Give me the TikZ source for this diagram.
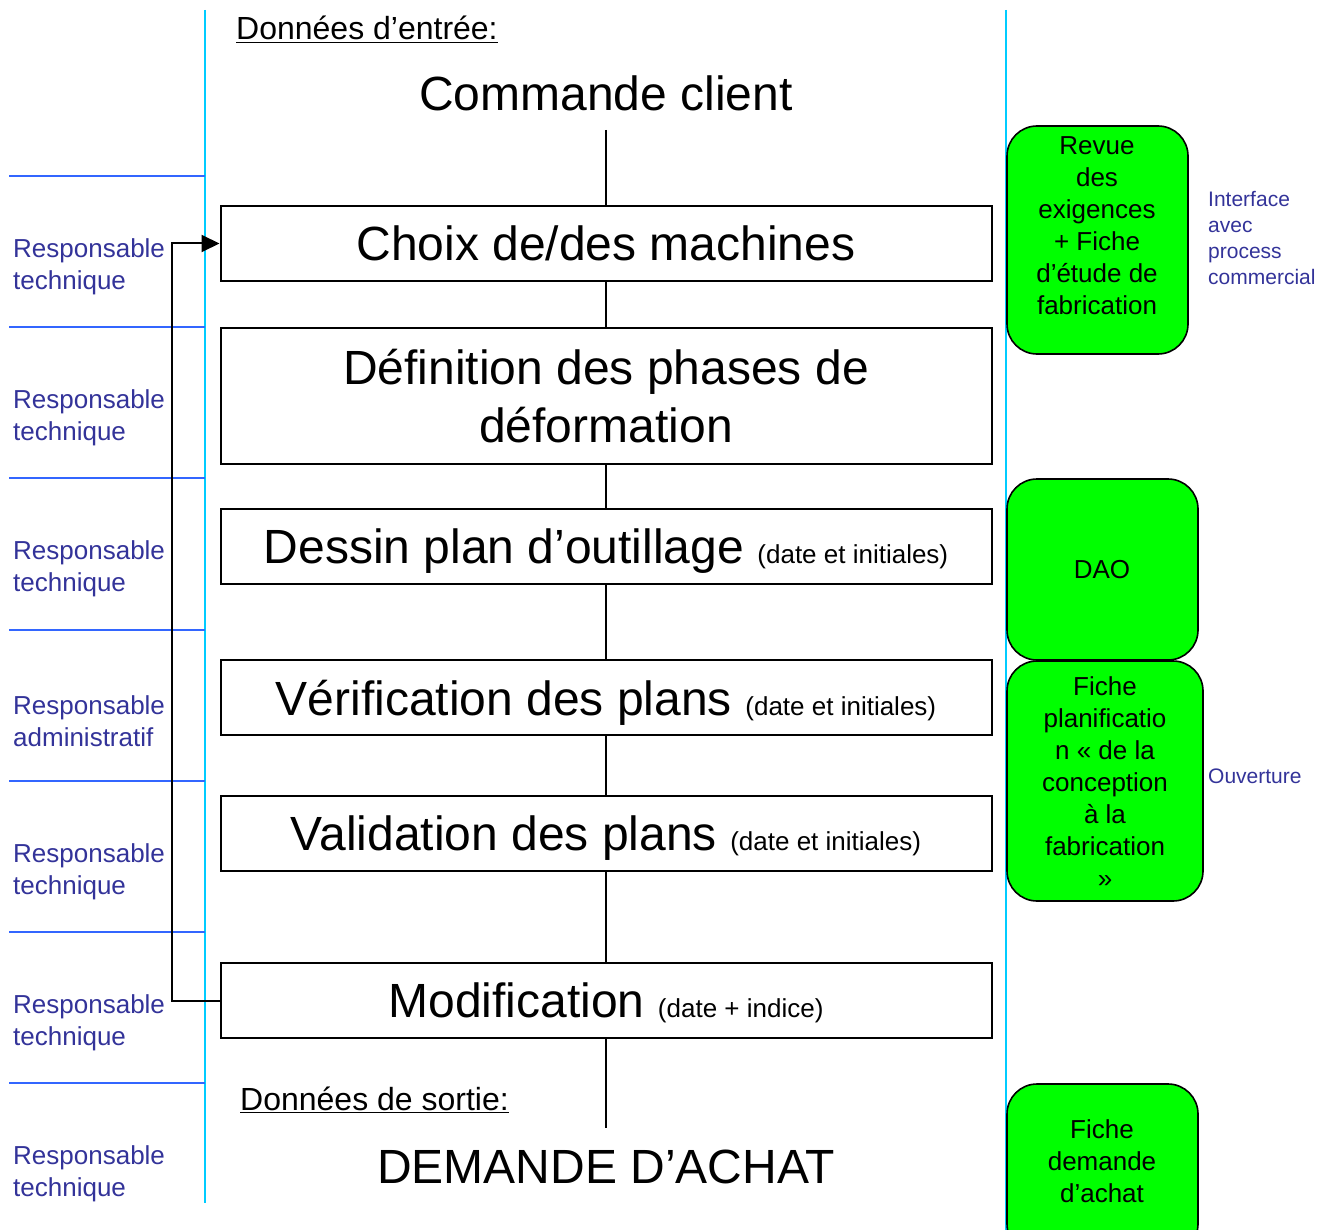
\documentclass[tikz,border=0pt]{standalone}
\usepackage{fontspec}
\setmainfont{Liberation Sans}
\usetikzlibrary{arrows.meta}
\definecolor{lane}{HTML}{00CCFF}
\definecolor{sepline}{HTML}{3366FF}
\definecolor{role}{HTML}{333399}
\definecolor{tool}{HTML}{00FF00}
\newcommand{\annot}[1]{{\fontsize{26}{31}\selectfont #1}}
\begin{document}
\begin{tikzpicture}[x=1pt,y=-1pt,
  stepbox/.style={draw=black, line width=2pt, minimum width=771pt, minimum height=75pt,
    inner sep=0pt, align=center, font=\fontsize{48}{57.6}\selectfont},
  oneline/.style={text depth=0pt},
  bigtext/.style={inner sep=0pt, font=\fontsize{48}{57.6}\selectfont},
  headtext/.style={inner sep=0pt, anchor=base west, font=\fontsize{32}{38}\selectfont},
  roletext/.style={inner sep=0pt, anchor=west, align=left, text=role, font=\fontsize{26}{32}\selectfont},
  sidetext/.style={inner sep=0pt, anchor=west, align=left, text=role, font=\fontsize{21}{26}\selectfont},
  toolbox/.style={draw=black, fill=tool, line width=1.6pt, rounded corners=30pt, inner sep=0pt},
  tooltext/.style={inner sep=0pt, align=center, font=\fontsize{26}{32}\selectfont},
  flow/.style={draw=black, line width=2pt},
  lanes/.style={draw=lane, line width=2pt},
  rows/.style={draw=sepline, line width=2pt}]
\useasboundingbox (0,0) rectangle (1321,1230);

% swimlane borders
\draw[lanes] (205,10) -- (205,1203);
\draw[lanes] (1006,10) -- (1006,1230);

% row separators of the role column
\foreach \yy in {176,327,478,630,781,932,1083}
  \draw[rows] (9,\yy) -- (205,\yy);

% roles
\node[roletext] (r1) at (13,267) {Responsable\\technique};
\node[roletext] (r2) at (13,418) {Responsable\\technique};
\node[roletext] (r3) at (13,569) {Responsable\\technique};
\node[roletext] (r4) at (13,721) {Responsable\\administratif};
\node[roletext] (r5) at (13,872) {Responsable\\technique};
\node[roletext] (r6) at (13,1023) {Responsable\\technique};
\node[roletext] (r7) at (13,1174) {Responsable\\technique};

% inputs and outputs
\node[headtext] (inhead) at (236,40) {\underline{Données d’entrée:}};
\node[bigtext] (input) at (606,93) {Commande client};
\node[headtext] (outhead) at (240,1110) {\underline{Données de sortie:}};
\node[bigtext] (output) at (606,1167) {DEMANDE D’ACHAT};

% process steps
\node[stepbox, oneline] (b1) at (606,243.5) {Choix de/des machines};
\node[stepbox, minimum height=136pt] (b2) at (606,396) {Définition des phases de\\déformation};
\node[stepbox, oneline] (b3) at (606,546.5) {Dessin plan d’outillage \annot{(date et initiales)}};
\node[stepbox, oneline] (b4) at (606,697.5) {Vérification des plans \annot{(date et initiales)}};
\node[stepbox, oneline] (b5) at (606,833.5) {Validation des plans \annot{(date et initiales)}};
\node[stepbox, oneline] (b6) at (606,1000.5) {Modification \annot{(date + indice)}};

% main flow
\coordinate (ftop) at (606,130);
\coordinate (fbot) at (606,1128);
\draw[flow] (ftop) -- (b1.north);
\draw[flow] (b1.south) -- (b2.north);
\draw[flow] (b2.south) -- (b3.north);
\draw[flow] (b3.south) -- (b4.north);
\draw[flow] (b4.south) -- (b5.north);
\draw[flow] (b5.south) -- (b6.north);
\draw[flow] (b6.south) -- (fbot);

% modification loop back to machine choice
\draw[flow, -{Triangle[length=18pt,width=17pt]}] (b6.west) -- ++(-48,0) |- (b1.west);

% supporting documents
\node[toolbox, minimum width=181pt, minimum height=228pt] (g1) at (1097.5,240) {};
\node[tooltext] (g1t) at (1097,226) {Revue\\des\\exigences\\+ Fiche\\d’étude de\\fabrication};
\node[toolbox, minimum width=191pt, minimum height=181pt] (g2) at (1102.5,569.5) {};
\node[tooltext] (g2t) at (1102,570) {DAO};
\node[toolbox, minimum width=196pt, minimum height=240pt] (g3) at (1105,781) {};
\node[tooltext] (g3t) at (1105,782) {Fiche\\planificatio\\n « de la\\conception\\à la\\fabrication\\»};
\node[toolbox, minimum width=191pt, minimum height=170pt] (g4) at (1102.5,1169) {};
\node[tooltext] (g4t) at (1102,1161) {Fiche\\demande\\d’achat};

% interfaces
\node[sidetext] (s1) at (1208,238) {Interface\\avec\\process\\commercial};
\node[sidetext] (s2) at (1208,776) {Ouverture};
\end{tikzpicture}
\end{document}
